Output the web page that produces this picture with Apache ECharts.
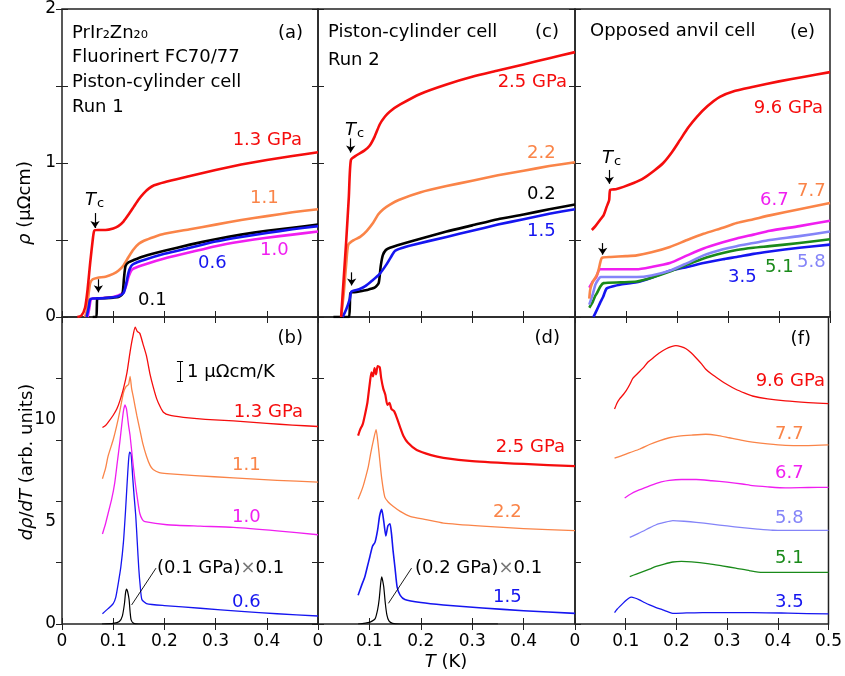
<!DOCTYPE html>
<html>
<head>
<meta charset="utf-8">
<script src="https://cdn.jsdelivr.net/npm/echarts@6/dist/echarts.min.js"></script>
<style>
html, body { margin: 0; padding: 0; background: #fff; }
#chart { width: 845px; height: 676px; }
</style>
</head>
<body>
<div id="chart"></div>
<script>
// panel (a): rho vs T, piston-cylinder run 1
var a13 = [[0.030,0],[0.038,0.01],[0.045,0.06],[0.050,0.18],[0.055,0.35],[0.060,0.50],[0.063,0.56],[0.070,0.565],[0.085,0.565],[0.100,0.575],[0.110,0.59],[0.120,0.62],[0.130,0.665],[0.140,0.715],[0.150,0.765],[0.160,0.805],[0.170,0.835],[0.180,0.855],[0.200,0.875],[0.250,0.915],[0.300,0.955],[0.350,0.99],[0.400,1.02],[0.450,1.045],[0.500,1.07]];
var a11 = [[0.045,0],[0.049,0.05],[0.052,0.15],[0.055,0.22],[0.060,0.245],[0.070,0.255],[0.085,0.262],[0.100,0.28],[0.110,0.30],[0.120,0.335],[0.130,0.39],[0.140,0.44],[0.150,0.475],[0.160,0.495],[0.180,0.52],[0.200,0.54],[0.250,0.57],[0.300,0.60],[0.350,0.63],[0.400,0.655],[0.450,0.68],[0.500,0.70]];
var a10 = [[0.050,0],[0.053,0.05],[0.056,0.11],[0.060,0.12],[0.080,0.123],[0.100,0.13],[0.110,0.14],[0.120,0.16],[0.125,0.20],[0.130,0.26],[0.135,0.30],[0.140,0.315],[0.160,0.34],[0.200,0.38],[0.250,0.42],[0.300,0.46],[0.350,0.49],[0.400,0.515],[0.450,0.535],[0.500,0.555]];
var a06 = [[0.048,0],[0.052,0.06],[0.055,0.115],[0.060,0.12],[0.080,0.122],[0.100,0.128],[0.110,0.135],[0.120,0.155],[0.125,0.21],[0.130,0.29],[0.135,0.33],[0.140,0.345],[0.160,0.37],[0.200,0.41],[0.250,0.45],[0.300,0.49],[0.350,0.52],[0.400,0.545],[0.450,0.57],[0.500,0.59]];
var a01 = [[0.060,0],[0.067,0],[0.068,0.06],[0.069,0.12],[0.080,0.122],[0.100,0.126],[0.110,0.13],[0.118,0.15],[0.121,0.25],[0.124,0.33],[0.130,0.355],[0.140,0.37],[0.160,0.395],[0.200,0.43],[0.250,0.47],[0.300,0.505],[0.350,0.535],[0.400,0.56],[0.450,0.58],[0.500,0.60]];

// panel (c): run 2
var c25 = [[0.045,0],[0.050,0.25],[0.055,0.50],[0.060,0.78],[0.064,1.02],[0.075,1.05],[0.090,1.08],[0.100,1.11],[0.110,1.17],[0.120,1.25],[0.130,1.30],[0.140,1.335],[0.160,1.38],[0.200,1.45],[0.250,1.51],[0.300,1.56],[0.350,1.60],[0.400,1.64],[0.450,1.68],[0.500,1.72]];
var c22 = [[0.045,0],[0.050,0.15],[0.055,0.35],[0.059,0.47],[0.070,0.50],[0.082,0.52],[0.095,0.56],[0.107,0.61],[0.117,0.665],[0.127,0.70],[0.140,0.73],[0.157,0.76],[0.200,0.81],[0.250,0.85],[0.300,0.885],[0.350,0.92],[0.400,0.95],[0.450,0.98],[0.500,1.005]];
var c02 = [[0.030,0],[0.060,0],[0.062,0.08],[0.063,0.155],[0.080,0.165],[0.095,0.175],[0.110,0.19],[0.118,0.22],[0.122,0.33],[0.126,0.40],[0.132,0.435],[0.140,0.45],[0.180,0.49],[0.250,0.555],[0.300,0.595],[0.350,0.635],[0.400,0.665],[0.450,0.70],[0.500,0.73]];
var c15 = [[0.048,0],[0.055,0.05],[0.062,0.12],[0.065,0.165],[0.080,0.18],[0.092,0.20],[0.105,0.235],[0.120,0.28],[0.133,0.34],[0.142,0.39],[0.150,0.43],[0.165,0.45],[0.180,0.465],[0.250,0.52],[0.300,0.56],[0.350,0.60],[0.400,0.635],[0.450,0.67],[0.500,0.70]];

// panel (e): opposed anvil cell
var e96 = [[0.033,0.565],[0.040,0.59],[0.049,0.63],[0.056,0.66],[0.062,0.715],[0.067,0.76],[0.069,0.825],[0.080,0.83],[0.095,0.845],[0.115,0.87],[0.134,0.90],[0.155,0.95],[0.173,1.0],[0.190,1.07],[0.206,1.15],[0.222,1.23],[0.239,1.30],[0.260,1.37],[0.284,1.43],[0.310,1.465],[0.350,1.495],[0.400,1.53],[0.450,1.56],[0.500,1.59]];
var e77 = [[0.028,0.12],[0.030,0.18],[0.035,0.23],[0.039,0.25],[0.045,0.29],[0.050,0.36],[0.053,0.385],[0.070,0.39],[0.100,0.395],[0.121,0.40],[0.150,0.42],[0.186,0.455],[0.220,0.50],[0.252,0.54],[0.290,0.58],[0.317,0.61],[0.350,0.635],[0.382,0.66],[0.440,0.70],[0.500,0.74]];
var e67 = [[0.028,0.19],[0.035,0.23],[0.042,0.26],[0.046,0.30],[0.050,0.31],[0.080,0.31],[0.121,0.31],[0.150,0.325],[0.186,0.35],[0.220,0.40],[0.252,0.445],[0.290,0.485],[0.317,0.51],[0.350,0.535],[0.382,0.56],[0.440,0.59],[0.500,0.625]];
var e58 = [[0.028,0.08],[0.035,0.15],[0.040,0.21],[0.045,0.24],[0.050,0.26],[0.080,0.26],[0.121,0.26],[0.150,0.27],[0.186,0.30],[0.220,0.35],[0.252,0.40],[0.290,0.44],[0.317,0.46],[0.350,0.48],[0.382,0.50],[0.440,0.525],[0.500,0.555]];
var e51 = [[0.028,0.06],[0.035,0.10],[0.040,0.14],[0.043,0.155],[0.050,0.20],[0.056,0.22],[0.090,0.225],[0.121,0.23],[0.150,0.255],[0.186,0.295],[0.220,0.34],[0.252,0.38],[0.290,0.415],[0.317,0.435],[0.350,0.45],[0.382,0.46],[0.440,0.48],[0.500,0.505]];
var e35 = [[0.036,0],[0.042,0.04],[0.049,0.09],[0.055,0.13],[0.062,0.185],[0.075,0.20],[0.088,0.21],[0.121,0.225],[0.150,0.255],[0.186,0.30],[0.220,0.325],[0.252,0.35],[0.290,0.375],[0.317,0.39],[0.350,0.41],[0.382,0.425],[0.440,0.45],[0.500,0.47]];

// panel (b): drho/dT, run 1 (offset, arb. units)
var b13 = [[0.079,9.6],[0.085,9.7],[0.090,9.85],[0.100,10.2],[0.107,10.5],[0.113,10.9],[0.120,11.5],[0.127,12.3],[0.133,13.3],[0.138,14.0],[0.143,14.5],[0.147,14.3],[0.152,14.2],[0.158,13.7],[0.165,13.1],[0.172,12.2],[0.178,11.6],[0.185,11.0],[0.192,10.6],[0.198,10.35],[0.210,10.2],[0.237,10.1],[0.280,10.0],[0.335,9.92],[0.400,9.8],[0.450,9.72],[0.500,9.65]];
var b11 = [[0.079,7.1],[0.085,7.6],[0.090,8.2],[0.100,9.0],[0.107,9.7],[0.113,10.4],[0.120,11.3],[0.125,11.6],[0.130,11.7],[0.133,12.1],[0.136,11.5],[0.140,11.0],[0.146,10.2],[0.152,9.5],[0.158,8.8],[0.165,8.2],[0.172,7.75],[0.178,7.55],[0.190,7.4],[0.205,7.35],[0.260,7.25],[0.335,7.14],[0.420,7.02],[0.500,6.93]];
var b10 = [[0.079,4.4],[0.085,4.9],[0.090,5.4],[0.097,6.1],[0.103,6.9],[0.108,7.9],[0.113,8.9],[0.117,9.8],[0.120,10.4],[0.123,10.7],[0.126,10.5],[0.130,9.7],[0.133,9.2],[0.138,8.0],[0.143,6.9],[0.148,6.0],[0.152,5.4],[0.157,5.1],[0.162,5.0],[0.205,4.85],[0.270,4.78],[0.335,4.72],[0.420,4.55],[0.500,4.36]];
var b06 = [[0.079,0.5],[0.090,0.75],[0.100,1.0],[0.105,1.3],[0.110,2.0],[0.115,2.8],[0.120,4.0],[0.124,5.5],[0.127,6.8],[0.130,8.0],[0.132,8.4],[0.135,8.3],[0.138,7.2],[0.141,6.2],[0.144,5.3],[0.147,4.0],[0.150,2.7],[0.153,1.8],[0.156,1.2],[0.165,1.0],[0.200,0.9],[0.270,0.77],[0.350,0.62],[0.420,0.5],[0.500,0.39]];
var b01 = [[0.078,0],[0.100,0.03],[0.112,0.12],[0.118,0.4],[0.122,1.0],[0.124,1.5],[0.126,1.7],[0.128,1.6],[0.131,1.2],[0.133,0.6],[0.135,0.2],[0.140,0.03],[0.150,0],[0.500,0]];

// panel (d): run 2
var d25 = [[0.078,9.2],[0.082,9.5],[0.086,9.7],[0.088,9.85],[0.092,10.3],[0.096,10.8],[0.098,11.2],[0.101,11.8],[0.104,12.3],[0.107,12.1],[0.110,12.5],[0.113,12.2],[0.116,12.6],[0.120,12.55],[0.123,12.0],[0.127,11.5],[0.131,11.2],[0.135,10.7],[0.139,10.8],[0.143,10.5],[0.148,10.4],[0.153,10.1],[0.160,9.6],[0.166,9.2],[0.175,8.85],[0.192,8.5],[0.220,8.25],[0.244,8.12],[0.300,7.96],[0.400,7.82],[0.500,7.71]];
var d22 = [[0.078,6.1],[0.083,6.4],[0.088,6.75],[0.093,7.2],[0.098,7.7],[0.103,8.4],[0.108,9.0],[0.113,9.5],[0.116,9.0],[0.119,8.3],[0.124,7.1],[0.130,6.2],[0.137,5.95],[0.146,5.75],[0.160,5.5],[0.179,5.26],[0.210,5.1],[0.244,4.93],[0.320,4.78],[0.400,4.66],[0.500,4.56]];
var d15 = [[0.078,1.4],[0.085,1.9],[0.091,2.3],[0.096,2.8],[0.101,3.3],[0.106,3.8],[0.111,4.0],[0.116,4.6],[0.120,5.3],[0.124,5.6],[0.128,5.0],[0.132,4.3],[0.136,4.8],[0.140,4.9],[0.143,4.4],[0.146,3.6],[0.150,2.7],[0.154,1.8],[0.160,1.4],[0.169,1.2],[0.200,1.05],[0.244,0.93],[0.320,0.78],[0.400,0.65],[0.500,0.52]];
var d02 = [[0.078,0],[0.100,0.08],[0.111,0.25],[0.116,0.7],[0.119,1.2],[0.122,2.0],[0.124,2.3],[0.126,2.1],[0.128,1.8],[0.131,1.0],[0.134,0.45],[0.138,0.15],[0.145,0.03],[0.160,0],[0.350,0]];

// panel (f): opposed anvil cell
var f96 = [[0.078,10.5],[0.083,10.8],[0.088,11.0],[0.095,11.2],[0.101,11.4],[0.108,11.7],[0.114,12.0],[0.124,12.25],[0.134,12.5],[0.144,12.8],[0.154,13.0],[0.167,13.25],[0.180,13.45],[0.190,13.55],[0.199,13.6],[0.209,13.55],[0.219,13.45],[0.229,13.25],[0.239,13.0],[0.250,12.7],[0.258,12.45],[0.270,12.2],[0.284,11.96],[0.300,11.7],[0.317,11.47],[0.335,11.28],[0.350,11.14],[0.380,11.0],[0.415,10.9],[0.460,10.82],[0.500,10.77]];
var f77 = [[0.078,8.1],[0.090,8.2],[0.108,8.37],[0.128,8.55],[0.147,8.77],[0.166,8.95],[0.186,9.1],[0.205,9.18],[0.230,9.23],[0.258,9.27],[0.280,9.22],[0.304,9.1],[0.330,8.97],[0.350,8.89],[0.380,8.8],[0.415,8.73],[0.460,8.72],[0.500,8.75]];
var f67 = [[0.098,6.16],[0.110,6.35],[0.121,6.49],[0.137,6.65],[0.154,6.81],[0.170,6.94],[0.186,7.02],[0.210,7.06],[0.239,7.06],[0.270,7.0],[0.300,6.93],[0.330,6.84],[0.350,6.76],[0.380,6.7],[0.415,6.65],[0.460,6.67],[0.500,6.68]];
var f58 = [[0.108,4.23],[0.121,4.38],[0.134,4.53],[0.147,4.7],[0.160,4.85],[0.176,4.96],[0.193,5.05],[0.215,5.02],[0.239,4.97],[0.270,4.88],[0.300,4.79],[0.330,4.71],[0.360,4.64],[0.390,4.58],[0.415,4.57],[0.460,4.57],[0.500,4.57]];
var f51 = [[0.108,2.32],[0.121,2.44],[0.134,2.56],[0.147,2.68],[0.160,2.81],[0.176,2.93],[0.193,3.03],[0.210,3.06],[0.230,3.04],[0.265,2.94],[0.290,2.84],[0.317,2.73],[0.345,2.6],[0.369,2.52],[0.415,2.52],[0.460,2.52],[0.500,2.52]];
var f35 = [[0.078,0.56],[0.083,0.72],[0.088,0.85],[0.095,1.02],[0.101,1.16],[0.106,1.26],[0.111,1.31],[0.118,1.27],[0.127,1.18],[0.137,1.05],[0.147,0.93],[0.160,0.8],[0.173,0.69],[0.185,0.58],[0.193,0.52],[0.220,0.54],[0.252,0.56],[0.350,0.56],[0.420,0.53],[0.500,0.49]];

var RED = '#f50d0d', ORA = '#fa8448', MAG = '#f01ef0', BLU = '#1515f0', LBL = '#8484f8', GRN = '#1a8a1a', BLK = '#000';
var FONT = 'DejaVu Sans';

var chart = echarts.init(document.getElementById('chart'));

var cols = [{ left: 62, width: 256 }, { left: 318, width: 257 }, { left: 575, width: 255 }];
var rows = [{ top: 9, height: 308 }, { top: 317, height: 307 }];

var grids = [], xAxes = [], yAxes = [];
for (var r = 0; r < 2; r++) {
	for (var c = 0; c < 3; c++) {
		var g = r * 3 + c;
		grids.push({ left: cols[c].left, width: cols[c].width, top: rows[r].top, height: rows[r].height,
			show: true, borderColor: '#222', borderWidth: 1.5, backgroundColor: 'transparent' });
		xAxes.push({
			type: 'value', gridIndex: g, min: 0, max: 0.5, interval: 0.1,
			axisLine: { show: false }, splitLine: { show: false },
			axisTick: { inside: true, length: 6, lineStyle: { color: '#222' } },
			axisLabel: { show: r == 1, showMaxLabel: c == 2, margin: 9, fontSize: 17, fontFamily: FONT, color: '#000',
				formatter: function(v) { return v === 0 ? '0' : v.toFixed(1); } }
		});
		xAxes.push({ type: 'value', gridIndex: g, position: 'top', min: 0, max: 0.5, interval: 0.1,
			axisLine: { show: false }, splitLine: { show: false }, axisLabel: { show: false },
			axisTick: { inside: true, length: 6, lineStyle: { color: '#222' } } });
		if (r == 0) {
			yAxes.push({ type: 'value', gridIndex: g, min: 0, max: 2, interval: 0.5,
				axisLine: { show: false }, splitLine: { show: false },
				axisTick: { inside: true, length: 6, lineStyle: { color: '#222' } },
				axisLabel: { show: c == 0, margin: 6, fontSize: 17, fontFamily: FONT, color: '#000',
					formatter: function(v) { return v % 1 === 0 ? String(v) : ''; } } });
			yAxes.push({ type: 'value', gridIndex: g, position: 'right', min: 0, max: 2, interval: 0.5,
				axisLine: { show: false }, splitLine: { show: false }, axisLabel: { show: false },
				axisTick: { inside: true, length: 6, lineStyle: { color: '#222' } } });
		} else {
			yAxes.push({ type: 'value', gridIndex: g, min: 0, max: 15, interval: c == 0 ? 5 : 3,
				axisLine: { show: false }, splitLine: { show: false },
				axisTick: { show: c != 0, inside: true, length: 6, lineStyle: { color: '#222' } },
				axisLabel: { show: c == 0, showMaxLabel: false, margin: 6, fontSize: 17, fontFamily: FONT, color: '#000' } });
			yAxes.push({ type: 'value', gridIndex: g, position: 'right', min: 0, max: 15, interval: 3,
				axisLine: { show: false }, splitLine: { show: false }, axisLabel: { show: false },
				axisTick: { show: c != 2, inside: true, length: 6, lineStyle: { color: '#222' } } });
		}
	}
}

function line(g, data, color, width, extra) {
	var s = {
		type: 'line', xAxisIndex: 2 * g, yAxisIndex: 2 * g, data: data,
		showSymbol: false, symbol: 'none', smooth: 0.2,
		lineStyle: { color: color, width: width, join: 'round' }, itemStyle: { color: color },
		silent: true, animation: false
	};
	if (extra) s.markLine = extra;
	return s;
}

function marks(pairs, arrow, w) {
	return {
		silent: true, animation: false,
		symbol: arrow ? ['none', 'arrow'] : ['none', 'none'], symbolSize: 7,
		label: { show: false },
		lineStyle: { color: '#000', width: w || 1.2, type: 'solid' },
		data: pairs.map(function(p) { return [{ coord: p[0] }, { coord: p[1] }]; })
	};
}

var TOPW = 2.6, BOTW = 1.3;
var series = [
	line(0, a11, ORA, TOPW), line(0, a10, MAG, TOPW), line(0, a01, BLK, TOPW), line(0, a06, BLU, TOPW),
	line(0, a13, RED, TOPW, marks([[[0.0645, 0.675], [0.0645, 0.578]], [[0.071, 0.245], [0.071, 0.16]]], true)),
	line(1, c22, ORA, TOPW), line(1, c02, BLK, TOPW), line(1, c15, BLU, TOPW),
	line(1, c25, RED, TOPW, marks([[[0.0636, 1.16], [0.0636, 1.068]], [[0.0655, 0.29], [0.0655, 0.205]]], true)),
	line(2, e35, BLU, TOPW), line(2, e51, GRN, TOPW), line(2, e58, LBL, TOPW), line(2, e67, MAG, TOPW), line(2, e77, ORA, TOPW),
	line(2, e96, RED, TOPW, marks([[[0.0673, 0.955], [0.0673, 0.865]], [[0.0543, 0.48], [0.0543, 0.405]]], true)),
	line(3, b01, BLK, 1.2, marks([[[0.1836, 2.73], [0.136, 0.93]]], false, 0.9)),
	line(3, b06, BLU, BOTW), line(3, b10, MAG, BOTW), line(3, b11, ORA, BOTW),
	line(3, b13, RED, BOTW, marks([[[0.2305, 11.85], [0.2305, 12.85]], [[0.2245, 12.85], [0.2365, 12.85]], [[0.2245, 11.85], [0.2365, 11.85]]], false, 1)),
	line(4, d02, BLK, 1.2, marks([[[0.182, 2.73], [0.137, 1.01]]], false, 0.9)),
	line(4, d15, BLU, 1.6), line(4, d22, ORA, BOTW), line(4, d25, RED, 2.2),
	line(5, f35, BLU, BOTW), line(5, f51, GRN, BOTW), line(5, f58, LBL, BOTW), line(5, f67, MAG, BOTW), line(5, f77, ORA, BOTW), line(5, f96, RED, BOTW)
];

function txt(x, y, s, color, align, rich) {
	var st = { text: s, fill: color || '#000', fontSize: 18, fontFamily: FONT, align: align || 'left', verticalAlign: 'middle' };
	if (rich) st.rich = rich;
	return { type: 'text', x: x, y: y, silent: true, style: st };
}

var tcRich = {
	i: { fontSize: 18, fontFamily: FONT, fontStyle: 'italic', fill: '#000' },
	s: { fontSize: 13, fontFamily: FONT, fill: '#000', verticalAlign: 'bottom', padding: [8, 0, 0, 1] }
};
var timesRich = {
	n: { fontSize: 18, fontFamily: FONT, fill: '#000' },
	x: { fontSize: 18, fontFamily: FONT, fill: '#777' }
};
var nameRich = {
	i: { fontSize: 18, fontFamily: FONT, fontStyle: 'italic', fill: '#000' },
	n: { fontSize: 18, fontFamily: FONT, fill: '#000' }
};

var graphics = [
	txt(72, 33, 'PrIr₂Zn₂₀'), txt(72, 57, 'Fluorinert FC70/77'), txt(72, 82, 'Piston-cylinder cell'), txt(72, 107, 'Run 1'),
	txt(303, 33, '(a)', '#000', 'right'),
	txt(328, 32, 'Piston-cylinder cell'), txt(328, 60, 'Run 2'), txt(559, 32, '(c)', '#000', 'right'),
	txt(590, 31, 'Opposed anvil cell'), txt(815, 32, '(e)', '#000', 'right'),
	txt(303, 338, '(b)', '#000', 'right'), txt(560, 338, '(d)', '#000', 'right'), txt(811, 339, '(f)', '#000', 'right'),

	txt(302, 140, '1.3 GPa', RED, 'right'), txt(250, 198, '1.1', ORA), txt(260, 250, '1.0', MAG), txt(198, 263, '0.6', BLU), txt(138, 300, '0.1', BLK),
	txt(567, 82, '2.5 GPa', RED, 'right'), txt(527, 153, '2.2', ORA), txt(527, 194, '0.2', BLK), txt(527, 231, '1.5', BLU),
	txt(823, 108, '9.6 GPa', RED, 'right'), txt(797, 191, '7.7', ORA), txt(760, 200, '6.7', MAG), txt(797, 262, '5.8', LBL), txt(765, 267, '5.1', GRN), txt(728, 277, '3.5', BLU),

	txt(303, 412, '1.3 GPa', RED, 'right'), txt(232, 465, '1.1', ORA), txt(232, 517, '1.0', MAG), txt(232, 602, '0.6', BLU),
	txt(157, 568, '{n|(0.1 GPa)}{x|×}{n|0.1}', '#000', 'left', timesRich),
	txt(187, 372, '1 μΩcm/K'),
	txt(565, 447, '2.5 GPa', RED, 'right'), txt(493, 512, '2.2', ORA), txt(493, 597, '1.5', BLU),
	txt(415, 568, '{n|(0.2 GPa)}{x|×}{n|0.1}', '#000', 'left', timesRich),
	txt(825, 381, '9.6 GPa', RED, 'right'), txt(775, 434, '7.7', ORA), txt(775, 473, '6.7', MAG), txt(775, 518, '5.8', LBL), txt(775, 558, '5.1', GRN), txt(775, 602, '3.5', BLU),

	txt(85, 200, '{i|T}{s|c}', '#000', 'left', tcRich),
	txt(345, 130, '{i|T}{s|c}', '#000', 'left', tcRich),
	txt(602, 158, '{i|T}{s|c}', '#000', 'left', tcRich),

	{ type: 'text', x: 25, y: 203, rotation: Math.PI / 2, silent: true,
		style: { text: '{i|ρ}{n| (μΩcm)}', rich: nameRich, fontSize: 18, fontFamily: FONT, align: 'center', verticalAlign: 'middle' } },
	{ type: 'text', x: 27, y: 462, rotation: Math.PI / 2, silent: true,
		style: { text: '{i|dρ}{n|/}{i|dT}{n| (arb. units)}', rich: nameRich, fontSize: 18, fontFamily: FONT, align: 'center', verticalAlign: 'middle' } },
	txt(446, 662, '{i|T}{n| (K)}', '#000', 'center', nameRich)
];

var option = {
	animation: false,
	backgroundColor: '#fff',
	grid: grids,
	xAxis: xAxes,
	yAxis: yAxes,
	series: series,
	graphic: graphics
};
chart.setOption(option);
window.onresize = chart.resize;
</script>
</body>
</html>
